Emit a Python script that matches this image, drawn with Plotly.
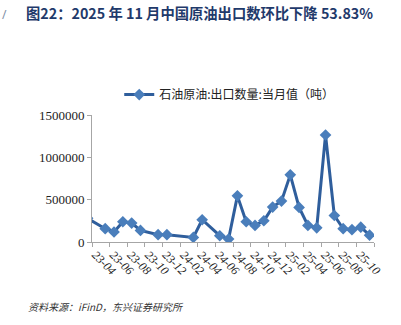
import plotly.graph_objects as go

# Month labels of the data points (YYYY-MM) and export volume (tons)
months = ["2023-03", "2023-05", "2023-06", "2023-07", "2023-08", "2023-09",
          "2023-11", "2023-12", "2024-03", "2024-04", "2024-06", "2024-07",
          "2024-08", "2024-09", "2024-10", "2024-11", "2024-12", "2025-01",
          "2025-02", "2025-03", "2025-04", "2025-05", "2025-06", "2025-07",
          "2025-08", "2025-09", "2025-10", "2025-11"]
values = [280000, 157000, 118000, 239000, 224000, 137000,
          86000, 86000, 54000, 263000, 74000, 35000,
          545000, 239000, 196000, 251000, 412000, 483000,
          793000, 408000, 196000, 168000, 1264000, 313000,
          157000, 145000, 175000, 80800]
tick_labels = ["23-04", "23-06", "23-08", "23-10", "23-12", "24-02", "24-04", "24-06",
               "24-08", "24-10", "24-12", "25-02", "25-04", "25-06", "25-08", "25-10"]
y_ticks = [0, 500000, 1000000, 1500000]

series_name = "石油原油:出口数量:当月值（吨）"
title_text = "图22：2025 年 11 月中国原油出口数环比下降 53.83%"
source_text = "资料来源：iFinD，东兴证券研究所"

def month_index(s):
    y, m = s.split("-")
    return (int(y) - 2023) * 12 + (int(m) - 4) + 0.5

xs = [month_index(m) for m in months]
label_pos = [month_index("20" + t) - 0.1 for t in tick_labels]

W, H = 401, 325
L, R, T, B = 91.7, 26.7, 115, 82.7
PW, PH = W - L - R, H - T - B
SERIF = "Liberation Serif, Times New Roman, serif"

fig = go.Figure()
fig.add_trace(go.Scatter(
    x=xs, y=values, mode="lines+markers", name=series_name,
    line=dict(color="#2f5e9c", width=3),
    marker=dict(symbol="diamond", size=9, color="#4a7ebb"),
))

fig.update_layout(
    width=W, height=H,
    margin=dict(l=L, r=R, t=T, b=B, autoexpand=False),
    paper_bgcolor="white", plot_bgcolor="white",
    showlegend=True,
    legend=dict(
        xref="paper", yref="paper",
        x=(119 - L) / PW, y=1 + (T - 80) / PH, xanchor="left", yanchor="top",
        orientation="h",
        font=dict(family="Noto Sans CJK SC", size=12, color="#222222"),
        bgcolor="rgba(0,0,0,0)", itemwidth=30,
    ),
    title=dict(
        text=title_text,
        x=26 / W, xanchor="left", xref="container",
        y=1 - 14 / H, yanchor="middle", yref="container",
        font=dict(family="Noto Sans CJK SC", size=14.3, color="#1f3a6b", weight="bold"),
    ),
    xaxis=dict(
        range=[0, 32],
        tickmode="array", tickvals=label_pos, ticktext=tick_labels,
        ticks="", tickangle=45,
        tickfont=dict(family=SERIF, size=12, color="#222222", style="italic"),
        showgrid=False, zeroline=False,
        showline=True, linecolor="#a6a6a6", linewidth=1,
        minor=dict(ticks="outside", ticklen=4, tickcolor="#a6a6a6", tick0=0, dtick=2, showgrid=False),
    ),
    yaxis=dict(
        range=[0, 1500000],
        tickmode="array", tickvals=y_ticks, ticktext=[str(v) for v in y_ticks],
        ticks="outside", ticklen=4, tickcolor="#a6a6a6",
        tickfont=dict(family=SERIF, size=13, color="#222222"),
        showgrid=False, zeroline=False,
        showline=True, linecolor="#a6a6a6", linewidth=1,
    ),
    annotations=[
        dict(text=source_text, xref="paper", yref="paper",
             x=(26 - L) / PW, y=-(307 - (H - B)) / PH,
             xanchor="left", yanchor="middle", showarrow=False,
             font=dict(family="Noto Sans CJK SC", size=10, color="#333333", style="italic")),
        dict(text="/", xref="paper", yref="paper",
             x=(0 - L) / PW, y=1 + (T - 14) / PH,
             xanchor="left", yanchor="middle", showarrow=False,
             font=dict(family="Noto Sans", size=12, color="#7f8fa6")),
    ],
)

fig.write_html("out.html")
